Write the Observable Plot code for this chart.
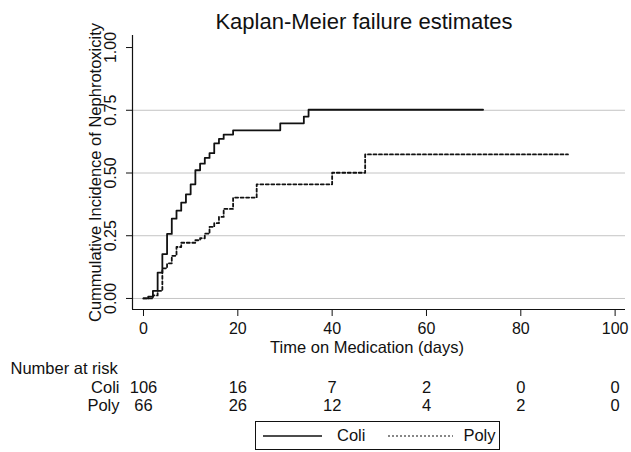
<!DOCTYPE html>
<html>
<head>
<meta charset="utf-8">
<script src="https://cdn.jsdelivr.net/npm/d3@7"></script>
<script src="https://cdn.jsdelivr.net/npm/@observablehq/plot@0.6"></script>
<style>
  html, body { margin: 0; padding: 0; background: #fff; }
  body { width: 631px; height: 452px; position: relative; overflow: hidden;
         font-family: "Liberation Sans", Arial, sans-serif; }
  #legend { position: absolute; left: 255px; top: 421px; width: 243px; height: 27px;
            border: 1.5px solid #111; display: flex; align-items: center;
            font-size: 16.5px; color: #111; }
  #legend svg { display: block; }
</style>
</head>
<body>
<div id="chart"></div>
<div id="legend"></div>
<script>
// ---- data ----
const titleText = "Kaplan-Meier failure estimates";
const yTitle = "Cummulative Incidence of Nephrotoxicity";
const xTitle = "Time on Medication (days)";
const groups = ["Coli", "Poly"];

const coliTime = [0, 1, 2, 3, 4, 5, 6, 7, 8, 9, 10, 11, 12, 13, 14, 15, 16, 17, 19, 29, 34, 35, 72];
const coliInc  = [0, 0.007, 0.03, 0.103, 0.177, 0.257, 0.318, 0.35, 0.382, 0.415, 0.455, 0.511, 0.537, 0.560, 0.579, 0.618, 0.636, 0.653, 0.670, 0.698, 0.725, 0.752, 0.752];

const polyTime = [0, 2, 3, 4, 5, 6, 7, 8, 11, 12, 13, 14, 15, 16, 17, 19, 24, 40, 47, 90];
const polyInc  = [0, 0.012, 0.03, 0.12, 0.14, 0.17, 0.205, 0.222, 0.232, 0.24, 0.258, 0.285, 0.30, 0.325, 0.357, 0.402, 0.455, 0.501, 0.574, 0.574];

const xTicks = [0, 20, 40, 60, 80, 100];
const yTicks = [0, 0.25, 0.5, 0.75, 1];
const gridTicks = [0, 0.25, 0.5, 0.75];
const riskTitle = "Number at risk";
const coliAtRisk = [106, 16, 7, 2, 0, 0];
const polyAtRisk = [66, 26, 12, 4, 2, 0];

// ---- scale configuration ----
const xDomain = [-2.33, 102.2];
const yDomain = [-0.044, 1.048];

const coli = coliTime.map((t, i) => ({t, p: coliInc[i]}));
const poly = polyTime.map((t, i) => ({t, p: polyInc[i]}));
const riskColi = xTicks.map((x, i) => ({x, n: coliAtRisk[i]}));
const riskPoly = xTicks.map((x, i) => ({x, n: polyAtRisk[i]}));

const plot = Plot.plot({
  width: 631,
  height: 420,
  marginLeft: 132,
  marginRight: 6,
  marginTop: 35,
  marginBottom: 111,
  style: {fontFamily: "Liberation Sans, Arial, sans-serif", fontSize: "16px", background: "white", color: "#111", overflow: "visible"},
  x: {domain: xDomain},
  y: {domain: yDomain},
  marks: [
    Plot.gridY(gridTicks, {stroke: "#c4c4c4", strokeOpacity: 1, strokeWidth: 1}),
    Plot.line(poly, {x: "t", y: "p", curve: "step-after", stroke: "#111", strokeWidth: 1.8, strokeDasharray: "3,2.5"}),
    Plot.line(coli, {x: "t", y: "p", curve: "step-after", stroke: "#111", strokeWidth: 1.8}),
    Plot.ruleX([xDomain[0]], {stroke: "#111", strokeWidth: 1.2}),
    Plot.ruleY([yDomain[0]], {stroke: "#111", strokeWidth: 1.2}),
    Plot.axisX({ticks: xTicks, tickSize: 7, tickPadding: 6, fontSize: 16, label: null, tickFormat: d => String(d)}),
    Plot.axisY({ticks: yTicks, tickSize: 6, tickPadding: 11, tickRotate: -90, fontSize: 16, label: null, tickFormat: d3.format(".2f")}),
    // titles
    Plot.text([titleText], {frameAnchor: "top", dx: -15, dy: -7, lineAnchor: "bottom", fontSize: 22}),
    Plot.text([yTitle], {frameAnchor: "left", dx: -32, rotate: -90, lineAnchor: "bottom", textAnchor: "middle", fontSize: 16.5}),
    Plot.text([xTitle], {frameAnchor: "bottom", dx: -12, dy: 38, lineAnchor: "middle", fontSize: 16.5}),
    // number at risk table
    Plot.text([riskTitle], {frameAnchor: "bottom-left", dx: -122, dy: 59, textAnchor: "start", lineAnchor: "middle", fontSize: 16.5}),
    Plot.text([groups[0]], {frameAnchor: "bottom-left", dx: -13, dy: 78, textAnchor: "end", lineAnchor: "middle", fontSize: 16.5}),
    Plot.text([groups[1]], {frameAnchor: "bottom-left", dx: -13, dy: 96, textAnchor: "end", lineAnchor: "middle", fontSize: 16.5}),
    Plot.text(riskColi, {x: "x", text: "n", frameAnchor: "bottom", dy: 78, lineAnchor: "middle", fontSize: 16.5}),
    Plot.text(riskPoly, {x: "x", text: "n", frameAnchor: "bottom", dy: 96, lineAnchor: "middle", fontSize: 16.5})
  ]
});
document.getElementById("chart").appendChild(plot);

// ---- legend ----
const legend = document.getElementById("legend");
const styles = {Coli: {dash: null, w: 59, gapBefore: 7, gapAfter: 15}, Poly: {dash: "2,2", w: 65, gapBefore: 23, gapAfter: 10}};
groups.forEach(g => {
  const s = styles[g];
  const ns = "http://www.w3.org/2000/svg";
  const svg = document.createElementNS(ns, "svg");
  svg.setAttribute("width", s.w);
  svg.setAttribute("height", 6);
  svg.style.marginLeft = s.gapBefore + "px";
  svg.style.marginRight = s.gapAfter + "px";
  const ln = document.createElementNS(ns, "line");
  ln.setAttribute("x1", 0); ln.setAttribute("x2", s.w);
  ln.setAttribute("y1", 3); ln.setAttribute("y2", 3);
  ln.setAttribute("stroke", "#111");
  ln.setAttribute("stroke-width", s.dash ? 1.2 : 1.5);
  if (s.dash) ln.setAttribute("stroke-dasharray", s.dash);
  svg.appendChild(ln);
  legend.appendChild(svg);
  const span = document.createElement("span");
  span.textContent = g;
  legend.appendChild(span);
});
</script>
</body>
</html>
